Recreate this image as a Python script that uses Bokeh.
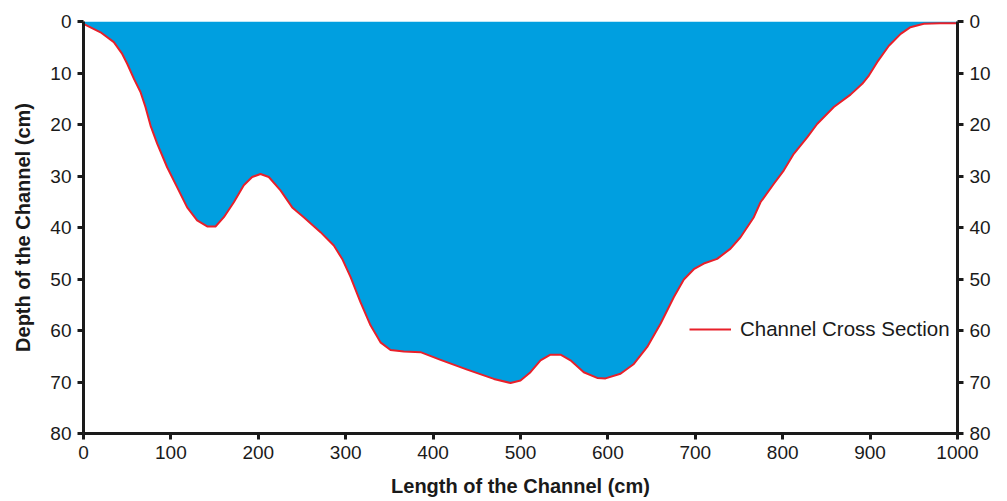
from bokeh.plotting import figure
from bokeh.models import Range1d, LinearAxis, FixedTicker, Legend, LegendItem
from bokeh.embed import file_html
from bokeh.resources import INLINE

# Channel cross section: distance along channel (cm) vs depth (cm)
length_cm = [0, 19.5, 34.7, 44.3, 50, 57.6, 65.2, 70.9, 76.7, 84.3, 95.7, 107.2, 118.6, 130, 141.5,
             151, 160.6, 172, 183.4, 193, 202.5, 212, 225.4, 238.8, 252, 271.2, 286.4, 296, 305.5,
             316.9, 328.4, 339.8, 351.3, 366.5, 385.6, 408.5, 439, 469.5, 488.6, 500, 511.4, 522.9,
             534.3, 545.8, 557.2, 572.4, 587.7, 597.3, 614.4, 629.7, 645, 660.2, 675.5, 686.9, 698.3,
             709.7, 725, 740.3, 751.7, 767, 774.6, 789.9, 801.3, 812.7, 828, 839.4, 858.5, 877.6, 891,
             898.6, 908.1, 921.5, 935, 946.2, 961.4, 980, 1000]
depth_cm = [0.45, 2.1, 4.0, 6.3, 8.2, 11.1, 13.7, 16.6, 20.2, 23.7, 28.3, 32.2, 36.1, 38.6, 39.8,
            39.8, 38.0, 35.1, 31.8, 30.2, 29.6, 30.2, 32.8, 36.1, 38.0, 40.9, 43.5, 46.1, 49.6,
            54.5, 59.0, 62.3, 63.8, 64.1, 64.2, 65.7, 67.6, 69.4, 70.2, 69.7, 68.1, 65.8,
            64.7, 64.7, 65.8, 68.1, 69.2, 69.3, 68.4, 66.5, 63.2, 58.7, 53.5, 50.1, 48.1,
            47.0, 46.1, 44.1, 41.9, 38.0, 35.1, 31.5, 28.9, 25.7, 22.5, 19.9, 16.6, 14.2, 12.1,
            10.5, 7.9, 4.7, 2.4, 1.1, 0.45, 0.35, 0.35]
zero_line = [0] * len(length_cm)

y_ticks = [0, 10, 20, 30, 40, 50, 60, 70, 80]
x_ticks = [0, 100, 200, 300, 400, 500, 600, 700, 800, 900, 1000]

FONT = "Liberation Sans"

p = figure(width=1007, height=501, output_backend="svg", toolbar_location=None,
           x_range=Range1d(0, 1000), y_range=Range1d(80, 0),
           min_border_left=83, min_border_right=50, min_border_top=21, min_border_bottom=68,
           x_axis_location="below", y_axis_location="left")
p.outline_line_color = None
p.xgrid.visible = False
p.ygrid.visible = False
p.background_fill_color = "white"
p.border_fill_color = "white"

p.varea(x=length_cm, y1=zero_line, y2=depth_cm, fill_color="#009FE0")
ln = p.line(x=length_cm, y=depth_cm, line_color="#E8202A", line_width=2, line_join="round")

right_axis = LinearAxis()
p.add_layout(right_axis, "right")

for ax in [p.yaxis[0], right_axis]:
    ax.ticker = FixedTicker(ticks=y_ticks)
p.xaxis[0].ticker = FixedTicker(ticks=x_ticks)

for ax in [p.xaxis[0], p.yaxis[0], right_axis]:
    ax.axis_line_width = 3
    ax.axis_line_color = "#1a1a1a"
    ax.major_tick_line_width = 3
    ax.major_tick_line_color = "#1a1a1a"
    ax.major_tick_out = 6
    ax.major_tick_in = 0
    ax.minor_tick_out = 0
    ax.minor_tick_in = 0
    ax.major_label_text_font = FONT
    ax.major_label_text_font_size = "19px"
    ax.major_label_text_color = "#1a1a1a"
    ax.major_label_standoff = 6

p.xaxis[0].axis_label = "Length of the Channel (cm)"
p.yaxis[0].axis_label = "Depth of the Channel (cm)"
for ax in [p.xaxis[0], p.yaxis[0]]:
    ax.axis_label_text_font = FONT
    ax.axis_label_text_font_style = "bold"
    ax.axis_label_text_font_size = "20px"
    ax.axis_label_text_color = "#1a1a1a"
p.xaxis[0].axis_label_standoff = 13
p.yaxis[0].axis_label_standoff = 13

legend = Legend(items=[LegendItem(label="Channel Cross Section", renderers=[ln])],
                location=(606, 92), padding=0, margin=0, glyph_width=42, glyph_height=20,
                label_height=20, label_standoff=9, border_line_color=None,
                background_fill_alpha=0, label_text_font=FONT, label_text_font_size="20.5px",
                label_text_color="#1a1a1a")
p.add_layout(legend, "center")

open("out.html", "w").write(file_html(p, INLINE))
